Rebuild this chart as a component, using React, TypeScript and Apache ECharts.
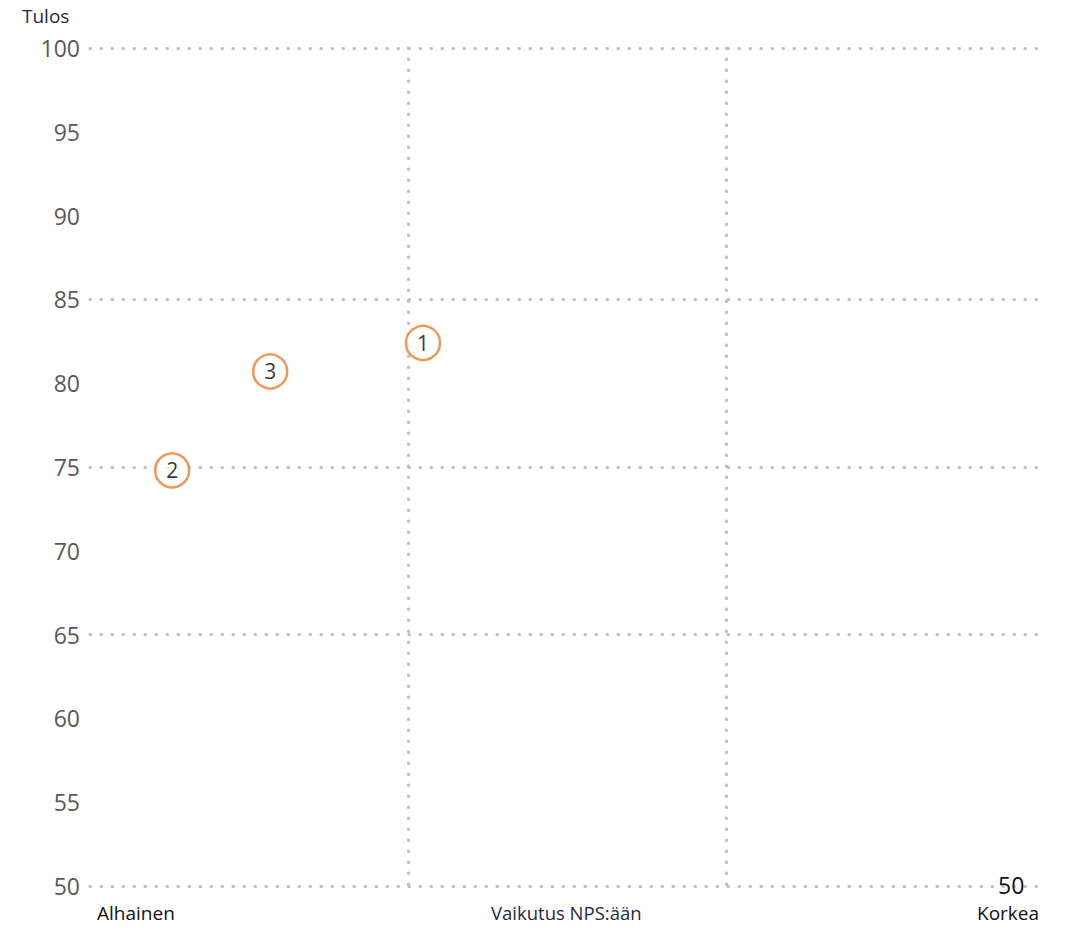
import React, { useEffect, useRef } from "react";
import * as echarts from "echarts";

const pointLabels = ["1", "2", "3"];
const impactValues = [1.046, 0.258, 0.566];
const resultValues = [82.4, 74.8, 80.7];
const gridLevels = [100, 85, 75, 65, 50];
const xAxisTexts = ["Alhainen", "Vaikutus NPS:ään", "Korkea"];
const yAxisTitle = "Tulos";
const cornerValue = "50";

export default function App() {
  const ref = useRef<HTMLDivElement>(null);
  useEffect(() => {
    if (!ref.current) return;
    const chart = echarts.init(ref.current, undefined, { renderer: "svg" });
    const font = "Open Sans, sans-serif";
    const dotted = { color: "#bfbfbf", width: 3.2, type: [0.5, 10.5] as any, cap: "round" as any };
    chart.setOption({
      animation: false,
      grid: { left: 90, right: 21, top: 48, bottom: 44 },
      xAxis: {
        type: "value",
        min: 0,
        max: 3,
        interval: 1,
        axisLine: { show: false },
        axisTick: { show: false },
        axisLabel: { show: false },
        splitLine: { show: true, showMinLine: false, showMaxLine: false, lineStyle: dotted },
      },
      yAxis: {
        type: "value",
        min: 50,
        max: 100,
        interval: 5,
        axisLine: { show: false },
        axisTick: { show: false },
        splitLine: { show: false },
        axisLabel: {
          margin: 10,
          fontSize: 23,
          color: "#595959",
          fontFamily: font,
        },
      },
      graphic: [
        { type: "text", left: 22, top: 6, style: { text: yAxisTitle, fontSize: 19, fill: "#1f2a44", fontFamily: font } },
        { type: "text", left: 97, top: 903, style: { text: xAxisTexts[0], fontSize: 19, fill: "#111", fontFamily: font } },
        { type: "text", left: 491, top: 903, style: { text: xAxisTexts[1], fontSize: 18.5, fill: "#1f2a44", fontFamily: font } },
        { type: "text", left: 977, top: 903, style: { text: xAxisTexts[2], fontSize: 19, fill: "#111", fontFamily: font } },
        { type: "text", left: 998, top: 873, z: 100, style: { text: cornerValue, fontSize: 23, fill: "#111", fontFamily: font } },
      ],
      series: [
        {
          type: "scatter",
          symbol: "circle",
          symbolSize: 34,
          z: 10,
          itemStyle: { color: "#ffffff", borderColor: "#ED7D31", borderWidth: 2.5 },
          label: {
            show: true,
            position: "inside",
            formatter: (p: any) => pointLabels[p.dataIndex],
            fontSize: 21,
            color: "#000",
            fontFamily: font,
          },
          data: impactValues.map((x, i) => [x, resultValues[i]]),
          markLine: {
            silent: true,
            symbol: "none",
            z: 1,
            label: { show: false },
            lineStyle: dotted,
            data: gridLevels.map((v) => ({ yAxis: v })),
          },
        },
      ],
    });
    return () => chart.dispose();
  }, []);
  return <div ref={ref} style={{ position: "absolute", left: 0, top: 0, width: 1066, height: 930 }} />;
}
